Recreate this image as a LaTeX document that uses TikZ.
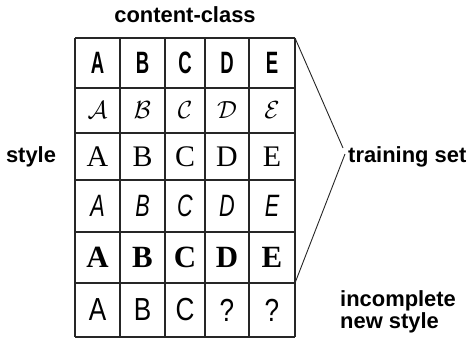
\documentclass[tikz,border=0pt]{standalone}
\usepackage{fontspec}
\setmainfont{Liberation Sans}
\newfontfamily\serifface{Liberation Serif}
\newfontfamily\sansface{Liberation Sans}
\usetikzlibrary{calc}
\begin{document}
\begin{tikzpicture}[x=1bp,y=-1bp,
  gridline/.style={line width=1.4bp,draw=black!85},
  label/.style={font=\fontsize{22}{22}\selectfont\bfseries,inner sep=0pt},
  glyph/.style={inner sep=0pt,anchor=center},
  bracketline/.style={line width=0.9bp,draw=black!85}]
\useasboundingbox (0,0) rectangle (472,339);
% grid
\def\xs{75,120,165,205,249,295}
\def\ys{38,88,133,180,232,283,337}
\foreach \x in \xs {\draw[gridline] (\x,38) -- (\x,337);}
\foreach \y in \ys {\draw[gridline] (75,\y) -- (295,\y);}
% column centres
\def\ca{97.5}\def\cb{142.5}\def\cc{185}\def\cd{227}\def\ce{272}
% row 1: condensed bold sans
\foreach \l/\cx [count=\i] in {A/\ca,B/\cb,C/\cc,D/\cd,E/\ce}
  \node[glyph] (r1\i) at (\cx,63) {\fontsize{31}{31}\selectfont\bfseries\scalebox{0.6}[1]{\l}};
% row 2: calligraphic
\foreach \l/\cx [count=\i] in {A/\ca,B/\cb,C/\cc,D/\cd,E/\ce}
  \node[glyph] (r2\i) at (\cx,110.5) {\fontsize{23}{23}\selectfont$\mathcal{\l}$};
% row 3: serif roman
\foreach \l/\cx [count=\i] in {A/\ca,B/\cb,C/\cc,D/\cd,E/\ce}
  \node[glyph] (r3\i) at (\cx,156.5) {\fontsize{30}{30}\serifface\l};
% row 4: handwritten-like
\foreach \l/\cx [count=\i] in {A/\ca,B/\cb,C/\cc,D/\cd,E/\ce}
  \node[glyph] (r4\i) at (\cx,206) {\fontsize{31}{31}\sansface\itshape\scalebox{0.7}[1]{\l}};
% row 5: bold serif
\foreach \l/\cx [count=\i] in {A/\ca,B/\cb,C/\cc,D/\cd,E/\ce}
  \node[glyph] (r5\i) at (\cx,257.5) {\fontsize{31}{31}\serifface\bfseries\l};
% row 6: incomplete style
\foreach \l/\cx [count=\i] in {A/\ca,B/\cb,C/\cc,?/\cd,?/\ce}
  \node[glyph] (r6\i) at (\cx,310) {\fontsize{32}{32}\sansface\scalebox{0.82}[1]{\l}};
% labels
\node[label] (cc) at (185,15) {content-class};
\node[label] (st) at (31,157) {style};
\node[label,anchor=west] (ts) at (348,157) {training set};
\node[label,anchor=west,align=left] (inc) at (340,312)
  {\fontsize{22}{29}\selectfont incomplete\\new style};
% bracket lines
\coordinate (gtr) at (295,38);
\coordinate (gbr) at (295,283);
\coordinate (tsu) at (343,148);
\coordinate (tsd) at (345,154);
\draw[bracketline] (gtr) -- (tsu);
\draw[bracketline] (tsd) -- (gbr);
\end{tikzpicture}
\end{document}
